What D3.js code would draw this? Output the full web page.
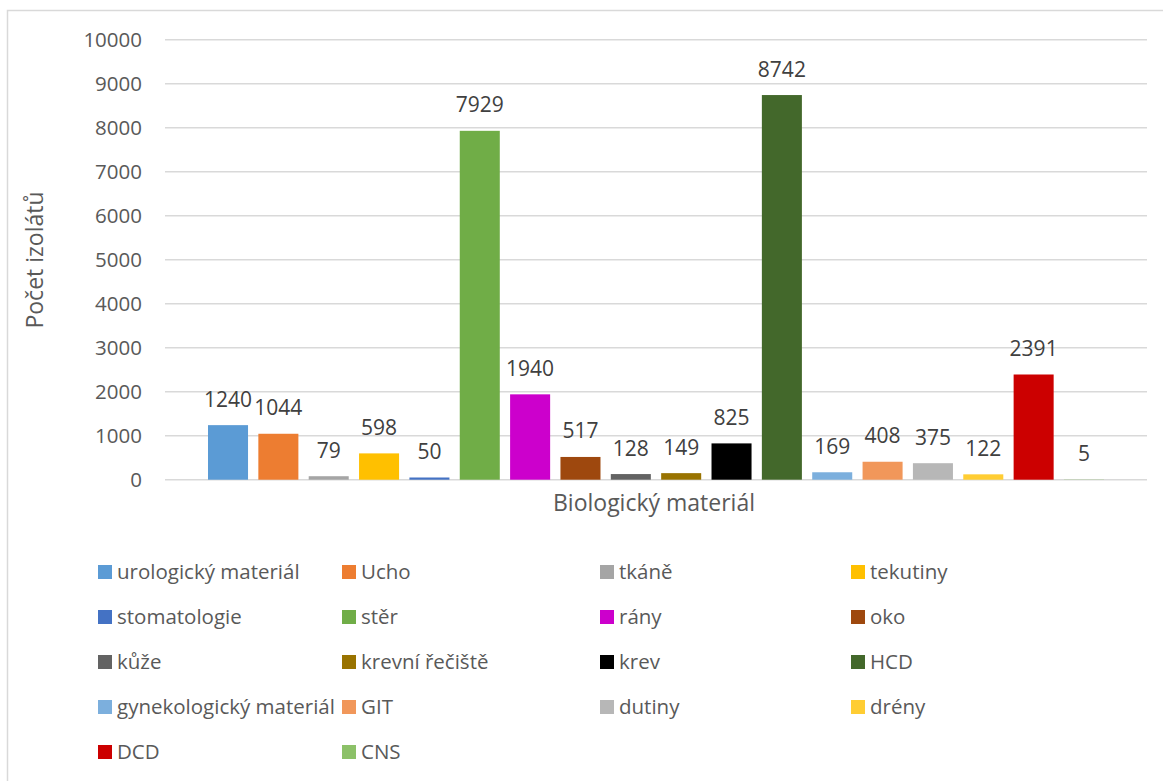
<!DOCTYPE html>
<html>
<head>
<meta charset="utf-8">
<script src="https://cdn.jsdelivr.net/npm/d3@7/dist/d3.min.js"></script>
<style>
  html, body { margin: 0; padding: 0; background: #fff; }
  svg { display: block; font-family: "Open Sans", sans-serif; }
</style>
</head>
<body>
<svg id="chart" width="1163" height="781"></svg>
<script>
// Počet izolátů podle biologického materiálu
const categories = [
  "urologický materiál", "Ucho", "tkáně", "tekutiny", "stomatologie", "stěr",
  "rány", "oko", "kůže", "krevní řečiště", "krev", "HCD",
  "gynekologický materiál", "GIT", "dutiny", "drény", "DCD", "CNS"
];
const values = [1240, 1044, 79, 598, 50, 7929, 1940, 517, 128, 149, 825, 8742, 169, 408, 375, 122, 2391, 5];
const colors = [
  "#5B9BD5", "#ED7D31", "#A5A5A5", "#FFC000", "#4472C4", "#70AD47",
  "#CC00CC", "#9E480E", "#636363", "#997300", "#000000", "#43682B",
  "#7CAFDD", "#F1975A", "#B7B7B7", "#FFCD33", "#CC0000", "#8CC168"
];
const yTicks = [0, 1000, 2000, 3000, 4000, 5000, 6000, 7000, 8000, 9000, 10000];
const yTitle = "Počet izolátů";
const xTitle = "Biologický materiál";

const svg = d3.select("#chart");
const textColor = "#595959";
const gridColor = "#D9D9D9";

// chart frame
svg.append("rect")
  .attr("x", 7.5).attr("y", 10.5)
  .attr("width", 1163).attr("height", 800)
  .attr("fill", "none").attr("stroke", gridColor).attr("stroke-width", 1.5);

const plot = { left: 165, right: 1147, top: 39.7, bottom: 479.7 };

const y = d3.scaleLinear().domain([0, 10000]).range([plot.bottom, plot.top]);
const x = d3.scaleBand().domain(categories)
  .range([plot.left, plot.right])
  .paddingInner(0.205).paddingOuter(0.854);

// gridlines
svg.append("g").selectAll("line").data(yTicks).join("line")
  .attr("x1", plot.left).attr("x2", plot.right)
  .attr("y1", d => y(d)).attr("y2", d => y(d))
  .attr("stroke", gridColor).attr("stroke-width", 1.5);

// y axis labels
const yAxis = d3.axisLeft(y).tickValues(yTicks).tickSize(0).tickPadding(0).tickFormat(d3.format("d"));
const gy = svg.append("g").attr("transform", `translate(142,0)`).call(yAxis);
gy.select(".domain").remove();
gy.selectAll("text")
  .attr("fill", textColor).attr("font-size", 20.5)
  .attr("font-family", "Open Sans, sans-serif")
  .attr("dy", "0.35em");

// bars
svg.append("g").selectAll("rect").data(categories).join("rect")
  .attr("x", d => x(d))
  .attr("width", x.bandwidth())
  .attr("y", (d, i) => y(values[i]))
  .attr("height", (d, i) => y(0) - y(values[i]))
  .attr("fill", (d, i) => colors[i]);

// value labels
svg.append("g").selectAll("text").data(categories).join("text")
  .attr("x", d => x(d) + x.bandwidth() / 2)
  .attr("y", (d, i) => y(values[i]) - 18.5)
  .attr("text-anchor", "middle")
  .attr("fill", "#404040").attr("font-size", 21)
  .text((d, i) => values[i]);

// axis titles
svg.append("text")
  .attr("x", 654).attr("y", 511)
  .attr("text-anchor", "middle")
  .attr("fill", textColor).attr("font-size", 23)
  .text(xTitle);

svg.append("text")
  .attr("transform", `translate(43,260) rotate(-90)`)
  .attr("text-anchor", "middle")
  .attr("fill", textColor).attr("font-size", 23)
  .text(yTitle);

// legend: 4 columns
const legendCols = [98, 342, 600, 851];
const legendRow0 = 572, legendRowStep = 45;
const sw = 14;
const lg = svg.append("g").selectAll("g").data(categories).join("g")
  .attr("transform", (d, i) => `translate(${legendCols[i % 4]},${legendRow0 + Math.floor(i / 4) * legendRowStep})`);
lg.append("rect")
  .attr("x", 0).attr("y", -sw / 2).attr("width", sw).attr("height", sw)
  .attr("fill", (d, i) => colors[i]);
lg.append("text")
  .attr("x", sw + 5).attr("y", 0).attr("dy", "0.35em")
  .attr("fill", textColor).attr("font-size", 20.5)
  .text(d => d);
</script>
</body>
</html>
